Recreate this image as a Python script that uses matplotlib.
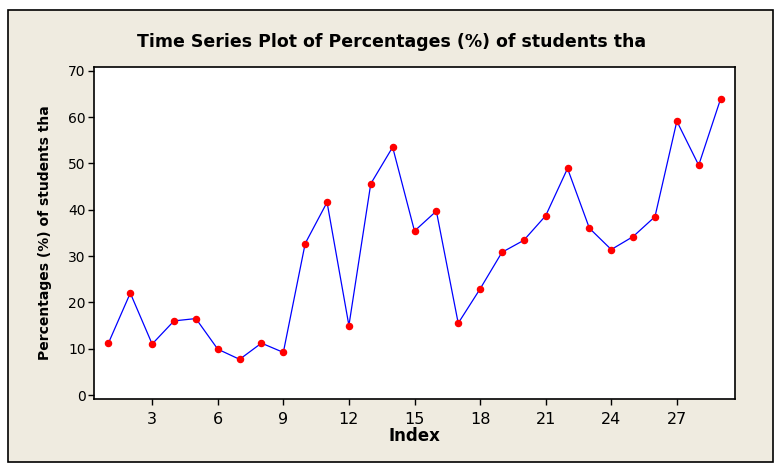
import numpy as np
import matplotlib
matplotlib.use('Agg')
import matplotlib.pyplot as plt
from matplotlib.patches import Rectangle

index = np.arange(1, 30)
pct = [11.2, 22.0, 11.0, 16.0, 16.5, 9.9, 7.7, 11.2, 9.2, 32.7,
       41.6, 15.0, 45.6, 53.5, 35.4, 39.7, 15.5, 22.9, 30.8, 33.4,
       38.7, 48.9, 36.0, 31.4, 34.2, 38.5, 59.1, 49.6, 63.9]

xticks = [3, 6, 9, 12, 15, 18, 21, 24, 27]
yticks = [0, 10, 20, 30, 40, 50, 60, 70]

title = 'Time Series Plot of Percentages (%) of students tha'
ylabel = 'Percentages (%) of students tha'
xlabel = 'Index'

bg = '#efebe0'

fig = plt.figure(figsize=(7.81, 4.71), dpi=100)
fig.patch.set_facecolor('white')
# beige panel with black frame
panel = Rectangle((8 / 781, 1 - 462 / 471), 765 / 781, 452 / 471,
                  transform=fig.transFigure, facecolor=bg,
                  edgecolor='black', linewidth=1.2, zorder=-1)
fig.patches.append(panel)

ax = fig.add_axes([94 / 781, 1 - 399 / 471, 641 / 781, 332 / 471])
ax.set_facecolor('white')
ax.plot(index, pct, '-', color='blue', linewidth=0.9, zorder=2)
ax.plot(index, pct, 'o', color='red', markersize=4.4, zorder=3)

ax.set_xlim(0.34, 29.66)
ax.set_ylim(-0.86, 70.8)
ax.set_xticks(xticks)
ax.set_yticks(yticks)

narrow = ['Liberation Sans Narrow', 'DejaVu Sans Condensed', 'DejaVu Sans']
ax.set_xticklabels([str(t) for t in xticks], family=narrow, fontsize=11.5)
ax.set_yticklabels([str(t) for t in yticks], family='DejaVu Sans', fontsize=10)
ax.tick_params(direction='out', length=4, width=1, colors='black', pad=2)
ax.tick_params(axis='x', pad=5)
for s in ax.spines.values():
    s.set_linewidth(1.2)

fig.text(392 / 781, 1 - 42 / 471, title, ha='center', va='center',
         fontsize=12.5, fontweight='bold', family='DejaVu Sans')
fig.text(414 / 781, 1 - 436 / 471, xlabel, ha='center', va='center',
         fontsize=12, fontweight='bold', family=narrow)
fig.text(45 / 781, 1 - 233 / 471, ylabel, ha='center', va='center',
         rotation=90, fontsize=10, fontweight='bold', family='DejaVu Sans')

fig.savefig('out.png', dpi=100, facecolor=fig.get_facecolor())
